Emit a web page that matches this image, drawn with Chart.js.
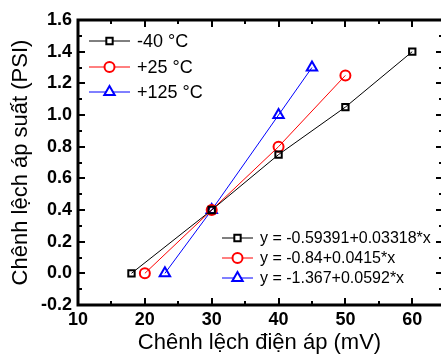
<!DOCTYPE html>
<html>
<head>
<meta charset="utf-8">
<script src="https://cdn.jsdelivr.net/npm/chart.js@4/dist/chart.umd.min.js"></script>
<style>
  html, body { margin: 0; padding: 0; background: #fff; overflow: hidden; }
  #chart { display: block; }
</style>
</head>
<body>
<canvas id="chart" width="441" height="356"></canvas>
<script>
// data
const seriesLabels = ["-40 °C", "+25 °C", "+125 °C"];
const fitLabels = ["y = -0.59391+0.03318*x", "y = -0.84+0.0415*x", "y = -1.367+0.0592*x"];

const xMinus40 = [18, 30, 40, 50, 60];
const yMinus40 = [0.0, 0.4, 0.75, 1.05, 1.4];

const xPlus25 = [20, 30, 40, 50];
const yPlus25 = [0.0, 0.4, 0.8, 1.25];

const xPlus125 = [23, 30, 40, 45];
const yPlus125 = [0.0, 0.4, 1.0, 1.3];

const xTickValues = [10, 20, 30, 40, 50, 60];
const yTickValues = [-0.2, 0.0, 0.2, 0.4, 0.6, 0.8, 1.0, 1.2, 1.4, 1.6];

const colors = ["#000000", "#ff0000", "#0000ff"];
const styles = ["rect", "circle", "triangle"];
const radii = [4.5, 5, 6];

const toPoints = (xs, ys) => xs.map((x, i) => ({ x, y: ys[i] }));
const seriesData = [
  toPoints(xMinus40, yMinus40),
  toPoints(xPlus25, yPlus25),
  toPoints(xPlus125, yPlus125)
];

const fontTick = { family: "Liberation Sans", size: 18, weight: "bold" };
const fontTitle = { family: "Liberation Sans", size: 22 };

const drawMarker = (ctx, i, x, y) => {
  ctx.save();
  ctx.strokeStyle = colors[i];
  ctx.fillStyle = "#ffffff";
  ctx.lineWidth = 2;
  Chart.helpers.drawPoint(ctx, { pointStyle: styles[i], radius: radii[i], rotation: 0, borderWidth: 2 }, x, y);
  ctx.restore();
};

const drawLegendRow = (ctx, i, x0, x1, y, text, size) => {
  ctx.save();
  ctx.strokeStyle = colors[i];
  ctx.lineWidth = 1;
  ctx.beginPath();
  ctx.moveTo(x0, y);
  ctx.lineTo(x1, y);
  ctx.stroke();
  drawMarker(ctx, i, (x0 + x1) / 2, y);
  ctx.fillStyle = "#000";
  ctx.font = `${size}px "Liberation Sans"`;
  ctx.textBaseline = "middle";
  ctx.fillText(text, x1 + 7, y + 1);
  ctx.restore();
};

// frame (right side is cut off by the picture edge), inward ticks, both legends
const frameAndLegends = {
  id: "frameAndLegends",
  afterDraw(chart) {
    const { ctx, chartArea: a, scales } = chart;
    const sx = scales.x;
    const sy = scales.y;
    ctx.save();
    ctx.strokeStyle = "#000";
    ctx.lineWidth = 3;
    ctx.beginPath();
    ctx.moveTo(a.right + 2, a.top);
    ctx.lineTo(a.left, a.top);
    ctx.lineTo(a.left, a.bottom);
    ctx.lineTo(a.right + 2, a.bottom);
    ctx.stroke();
    ctx.strokeStyle = "#cccccc";
    ctx.lineWidth = 1;
    ctx.beginPath();
    ctx.moveTo(a.right + 0.5, a.top);
    ctx.lineTo(a.right + 0.5, a.bottom);
    ctx.stroke();

    ctx.strokeStyle = "#000";
    ctx.lineWidth = 2;
    ctx.beginPath();
    for (let v = sx.min; v <= sx.max + 1e-6; v += 5) {
      const px = Math.round(sx.getPixelForValue(v));
      const len = v % 10 === 0 ? 7 : 4;
      ctx.moveTo(px, a.bottom);
      ctx.lineTo(px, a.bottom - len);
      ctx.moveTo(px, a.top);
      ctx.lineTo(px, a.top + len);
    }
    for (let k = -2; k <= 16; k++) {
      const v = k / 10;
      const py = Math.round(sy.getPixelForValue(v));
      const len = k % 2 === 0 ? 7 : 4;
      ctx.moveTo(a.left, py);
      ctx.lineTo(a.left + len, py);
      ctx.moveTo(a.right + 2, py);
      ctx.lineTo(a.right + 2 - len, py);
    }
    ctx.stroke();
    ctx.restore();

    const rows1 = [41, 67, 92];
    rows1.forEach((y, i) => drawLegendRow(ctx, i, 89, 130, y, seriesLabels[i], 18));
    const rows2 = [238, 258, 278];
    rows2.forEach((y, i) => drawLegendRow(ctx, i, 222, 253, y, fitLabels[i], 16));
  }
};

new Chart(document.getElementById("chart"), {
  type: "line",
  data: {
    datasets: seriesData.map((pts, i) => ({
      label: seriesLabels[i],
      data: pts,
      borderColor: colors[i],
      borderWidth: 1,
      pointStyle: styles[i],
      pointRadius: radii[i],
      pointBorderWidth: 2,
      pointBorderColor: colors[i],
      pointBackgroundColor: "rgba(255,255,255,0)",
      tension: 0,
      fill: false,
      clip: false
    }))
  },
  options: {
    responsive: false,
    animation: false,
    parsing: false,
    layout: { autoPadding: false, padding: { top: 20, right: 0, left: 0, bottom: 0 } },
    plugins: { legend: { display: false }, tooltip: { enabled: false } },
    scales: {
      x: {
        type: "linear",
        min: 10,
        max: 64.3,
        afterBuildTicks: (scale) => { scale.ticks = xTickValues.map((v) => ({ value: v })); },
        afterFit: (scale) => {
          scale.height = 51;
          scale.paddingLeft = 0;
          scale.paddingRight = 0;
        },
        ticks: { color: "#000", font: fontTick, padding: 4, callback: (v) => String(v) },
        grid: { display: false, drawTicks: false },
        border: { display: false },
        title: { display: true, text: "Chênh lệch điện áp (mV)", color: "#000", font: fontTitle, padding: { top: 0, bottom: 0 } }
      },
      y: {
        min: -0.2,
        max: 1.6,
        afterBuildTicks: (scale) => { scale.ticks = yTickValues.map((v) => ({ value: v })); },
        afterFit: (scale) => { scale.width = 78; },
        ticks: { color: "#000", font: fontTick, padding: 6, callback: (v) => v.toFixed(1) },
        grid: { display: false, drawTicks: false },
        border: { display: false },
        title: { display: true, text: "Chênh lệch áp suất (PSI)", color: "#000", font: fontTitle, padding: { top: 8, bottom: 0 } }
      }
    }
  },
  plugins: [frameAndLegends]
});
</script>
</body>
</html>
